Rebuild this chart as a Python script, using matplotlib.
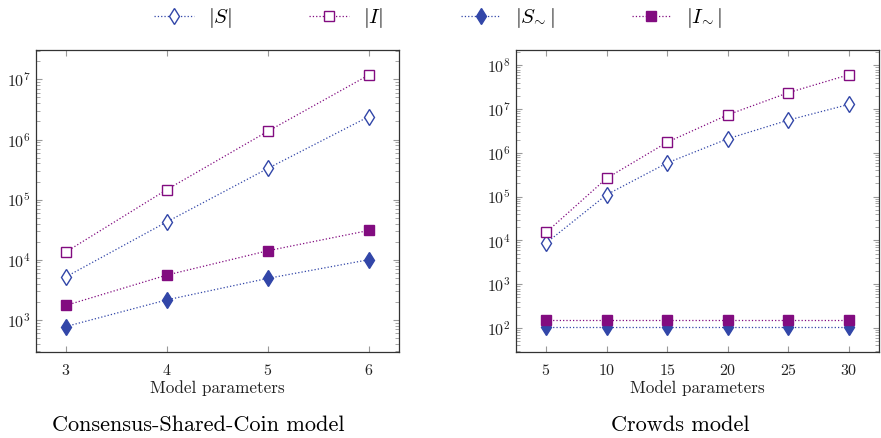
import matplotlib
matplotlib.use("Agg")
import matplotlib.pyplot as plt
from matplotlib.ticker import LogLocator, NullFormatter
from matplotlib.lines import Line2D

plt.rcParams['font.family'] = 'serif'
plt.rcParams['font.serif'] = ['cmr10', 'DejaVu Serif']
plt.rcParams['mathtext.fontset'] = 'cm'
plt.rcParams['axes.formatter.use_mathtext'] = True
plt.rcParams['axes.unicode_minus'] = False

# Consensus-Shared-Coin model
csc_x = [3, 4, 5, 6]
csc_S = [5200, 42700, 330000, 2400000]
csc_I = [13500, 147000, 1370000, 11800000]
csc_Sq = [775, 2150, 4900, 10000]
csc_Iq = [1740, 5560, 14100, 30700]

# Crowds model
cr_x = [5, 10, 15, 20, 25, 30]
cr_S = [8700, 111000, 590000, 2100000, 5600000, 12800000]
cr_I = [15200, 263000, 1750000, 7400000, 23700000, 61000000]
cr_Sq = [104, 104, 104, 104, 104, 104]
cr_Iq = [152, 152, 152, 152, 152, 152]

labels = [r'$|S|$', r'$|I|$', r'$|S_{\!\sim}|$', r'$|I_{\!\sim}|$']
titles = ['Consensus-Shared-Coin model', 'Crowds model']

BLUE = '#3246a8'
PURPLE = '#820c80'

fig = plt.figure(figsize=(8.81, 4.38), dpi=100)
ax1 = fig.add_axes([0.0405, 0.197, 0.4124, 0.689])
ax2 = fig.add_axes([0.5857, 0.197, 0.4124, 0.689])

def draw(ax, x, S, I, Sq, Iq):
    ax.plot(x, S, ls=':', lw=0.9, color=BLUE, marker='d', ms=8, mfc='white', mec=BLUE, mew=1.0)
    ax.plot(x, I, ls=':', lw=0.9, color=PURPLE, marker='s', ms=7, mfc='white', mec=PURPLE, mew=1.0)
    ax.plot(x, Sq, ls=':', lw=0.9, color=BLUE, marker='d', ms=8, mfc=BLUE, mec=BLUE, mew=1.0)
    ax.plot(x, Iq, ls=':', lw=0.9, color=PURPLE, marker='s', ms=7, mfc=PURPLE, mec=PURPLE, mew=1.0)
    ax.set_yscale('log')
    ax.yaxis.set_major_locator(LogLocator(base=10, numticks=20))
    ax.yaxis.set_minor_locator(LogLocator(base=10, subs=range(2, 10), numticks=100))
    ax.yaxis.set_minor_formatter(NullFormatter())
    ax.set_xticks(x)
    ax.tick_params(which='both', direction='in', top=True, right=True, color='#999999', labelsize=11.5, labelcolor='#222222')
    ax.tick_params(which='major', length=4.5, width=0.8)
    ax.tick_params(which='minor', length=3, width=0.6)
    ax.tick_params(axis='x', pad=8)
    for s in ax.spines.values():
        s.set_linewidth(0.9)
        s.set_color('#333333')
    ax.set_xlabel('Model parameters', fontsize=12.3, labelpad=2, color='#222222')

draw(ax1, csc_x, csc_S, csc_I, csc_Sq, csc_Iq)
ax1.set_xlim(2.70, 6.30)
ax1.set_ylim(10**2.47, 10**7.49)

draw(ax2, cr_x, cr_S, cr_I, cr_Sq, cr_Iq)
ax2.set_xlim(2.52, 32.5)
ax2.set_ylim(10**1.46, 10**8.35)

title_y = 1 - 425 / 438
fig.text(0.225, title_y, titles[0], ha='center', va='center', fontsize=16)
fig.text(0.772, title_y, titles[1], ha='center', va='center', fontsize=16)

handles = [
    Line2D([], [], ls=':', lw=0.9, color=BLUE, marker='d', ms=8, mfc='white', mec=BLUE),
    Line2D([], [], ls=':', lw=0.9, color=PURPLE, marker='s', ms=7, mfc='white', mec=PURPLE),
    Line2D([], [], ls=':', lw=0.9, color=BLUE, marker='d', ms=8, mfc=BLUE, mec=BLUE),
    Line2D([], [], ls=':', lw=0.9, color=PURPLE, marker='s', ms=7, mfc=PURPLE, mec=PURPLE),
]
fig.legend(handles, labels, loc='upper center', bbox_to_anchor=(0.497, 1.01), ncol=4,
           frameon=False, fontsize=15, handlelength=1.9, columnspacing=3.7, handletextpad=0.7,
           borderaxespad=0.1)

fig.savefig('out.png', dpi=100)
